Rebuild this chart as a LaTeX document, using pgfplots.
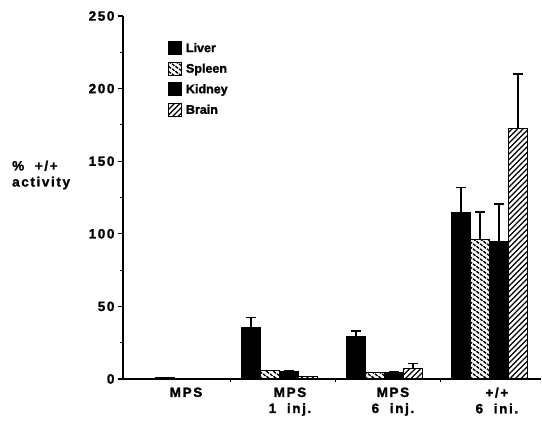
\documentclass[border=0pt]{standalone}
\usepackage{fontspec}
\setmainfont{Liberation Sans}[BoldFeatures={FakeBold=1.5}]
\newfontfamily\lab[LetterSpace=12, BoldFeatures={FakeBold=1.5}]{Liberation Sans}
\usepackage{pgfplots}
\pgfplotsset{compat=1.18}
\usetikzlibrary{patterns}
\pgfdeclarepatternformonly{zz}{\pgfqpoint{-1pt}{-1pt}}{\pgfqpoint{8pt}{6pt}}{\pgfqpoint{7pt}{5pt}}{%
  \pgfsetlinewidth{1.4pt}%
  \pgfpathmoveto{\pgfqpoint{0.5pt}{4.8pt}}\pgfpathlineto{\pgfqpoint{3pt}{2.6pt}}%
  \pgfpathmoveto{\pgfqpoint{4pt}{2.2pt}}\pgfpathlineto{\pgfqpoint{6.5pt}{0.2pt}}%
  \pgfusepath{stroke}}
\pgfdeclarepatternformonly{ne}{\pgfqpoint{-1pt}{-1pt}}{\pgfqpoint{6.5pt}{6.5pt}}{\pgfqpoint{5.5pt}{5.5pt}}{%
  \pgfsetlinewidth{1.2pt}%
  \pgfpathmoveto{\pgfqpoint{0pt}{0pt}}\pgfpathlineto{\pgfqpoint{5.5pt}{5.5pt}}%
  \pgfusepath{stroke}}
\pgfplotstableread{
x liver liverE spleen spleenE kidney kidneyE brain brainE
1 0    0    0.8  0    0    0    0    0
2 35.5 7    6    0    5.5  0    1.8  0
3 29.5 3.5  4.5  0    4.8  0    7    3.5
4 115  17   96   19   95   25.5 172.5 37.5
}\data
\begin{document}
\begin{tikzpicture}
\useasboundingbox (-123pt,-42pt) rectangle (419pt,379pt);
\begin{axis}[
  scale only axis, width=418pt, height=363pt,
  xmin=0.5095, xmax=4.49, ymin=0, ymax=250,
  axis x line*=bottom, axis y line*=left,
  axis line style={-, line width=1.3pt},
  ybar=0pt, bar width=19pt,
  ytick={0,50,...,250}, minor ytick={25,75,...,225},
  xtick={1.11,2.1,3.08,4.07},
  xticklabels={MPS, MPS\\1 \ inj., MPS\\6 \ inj., {+/+\\6 \ ini.}},
  xticklabel style={align=center, font=\lab\bfseries\fontsize{13.5}{16}\selectfont},
  yticklabel style={font=\lab\bfseries\fontsize{13.5}{16}\selectfont},
  /pgf/number format/assume math mode=true,
  minor xtick={1.529,2.529,3.529},
  tick align=outside, major tick length=5pt, minor tick length=3pt,
  major x tick style={draw=none},
  every tick/.style={line width=1.1pt, black},
  legend style={draw=none, fill=none, at={(0.1,0.937)}, anchor=north west,
    font=\bfseries\fontsize{12.5}{14}\selectfont, row sep=6pt, cells={anchor=west},
    nodes={inner xsep=4pt}},
  legend image code/.code={\draw[#1, line width=1pt] (0pt,-6.5pt) rectangle (13pt,6.5pt);},
  clip=false,
  error bars/error bar style={line width=1.3pt, black},
  error bars/error mark options={rotate=90, mark size=5pt, line width=1.3pt, black},
]
\addplot[fill=black, draw=black, line width=1pt,
  error bars/.cd, y dir=plus, y explicit]
  table[x=x, y=liver, y error=liverE] {\data};
\addplot[pattern=zz, draw=black, line width=1pt,
  error bars/.cd, y dir=plus, y explicit]
  table[x=x, y=spleen, y error=spleenE] {\data};
\addplot[fill=black, draw=black, line width=1pt,
  error bars/.cd, y dir=plus, y explicit]
  table[x=x, y=kidney, y error=kidneyE] {\data};
\addplot[pattern=ne, draw=black, line width=1pt,
  error bars/.cd, y dir=plus, y explicit]
  table[x=x, y=brain, y error=brainE] {\data};
\legend{Liver, Spleen, Kidney, Brain}
\node[align=left, anchor=west, font=\lab\bfseries\fontsize{13.5}{16}\selectfont, inner sep=0pt]
  at (axis description cs:-0.2656,0.562) {\% \ +/+\\activity};
\end{axis}
\end{tikzpicture}
\end{document}
